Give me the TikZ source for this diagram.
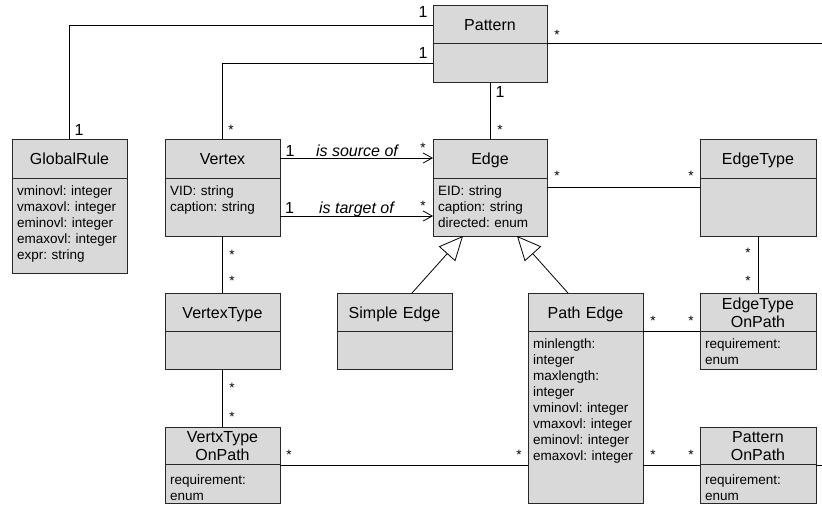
\documentclass[tikz,border=0pt]{standalone}
\usepackage{fontspec}
\setmainfont{Liberation Sans}
\usetikzlibrary{arrows.meta}
\frenchspacing
\definecolor{boxfill}{RGB}{217,217,217}
\definecolor{boxline}{RGB}{40,40,40}
\tikzset{
  cls/.style={draw=boxline, fill=boxfill, line width=0.9pt, inner sep=0pt, outer sep=0pt},
  divline/.style={draw=boxline, line width=0.9pt},
  ttl/.style={font=\fontsize{16}{18}\selectfont, anchor=base, inner sep=0pt, align=center, text width=112pt},
  att/.style={font=\fontsize{13.5}{16}\selectfont\frenchspacing, anchor=base west, inner sep=0pt, align=left, text width=108pt},
  assoc/.style={draw=black, line width=0.8pt},
  nav/.style={assoc, -{Straight Barb[length=9pt,width=10pt,line width=0.8pt]}},
  gen/.style={assoc, -{Triangle[open, length=24pt, width=22pt, line width=0.8pt]}},
  mult/.style={font=\fontsize{16}{18}\selectfont, inner sep=0pt},
  star/.style={font=\fontsize{13.5}{16}\selectfont, inner sep=0pt},
  role/.style={font=\fontsize{16}{18}\selectfont\itshape, anchor=base, inner sep=0pt},
}
% name, x1, y1, x2, y2, ydivider
\newcommand\umlbox[6]{%
  \node[cls, minimum width={#4-#2}, minimum height={#5-#3}] (#1) at ({(#2+#4)/2},{(#3+#5)/2}) {};
  \draw[divline] (#2,#6) -- (#4,#6);
}
\begin{document}
\begin{tikzpicture}[x=1pt,y=-1pt]
\useasboundingbox (0,0) rectangle (822,504);

% classes
\umlbox{cPattern}{433}{5}{547}{82}{43.5}
\node[ttl] (tPattern) at (490,30) {Pattern};

\umlbox{cGlobal}{12}{139}{127}{273}{178}
\node[ttl] (tGlobal) at (69.5,164.5) {GlobalRule};
\node[att] (aGlobal) at (17,195) {vminovl: integer\\vmaxovl: integer\\eminovl: integer\\emaxovl: integer\\expr: string};

\umlbox{cVertex}{165}{139}{280}{236}{178}
\node[ttl] (tVertex) at (222.5,164.5) {Vertex};
\node[att] (aVertex) at (170,195) {VID: string\\caption: string};

\umlbox{cEdge}{433}{139}{547}{236}{178}
\node[ttl] (tEdge) at (490,164.5) {Edge};
\node[att] (aEdge) at (438,195) {EID: string\\caption: string\\directed: enum};

\umlbox{cEdgeType}{700}{139}{816}{236}{178}
\node[ttl] (tEdgeType) at (758,164.5) {EdgeType};

\umlbox{cVType}{165}{293}{280}{369}{331}
\node[ttl] (tVType) at (222.5,318) {VertexType};

\umlbox{cSimple}{337}{293}{452}{369}{331}
\node[ttl] (tSimple) at (394.5,318) {Simple Edge};

\umlbox{cPath}{528}{293}{643}{503}{331}
\node[ttl] (tPath) at (585.5,318) {Path Edge};
\node[att] (aPath) at (533,348) {minlength:\\integer\\maxlength:\\integer\\vminovl: integer\\vmaxovl: integer\\eminovl: integer\\emaxovl: integer};

\umlbox{cETOP}{700}{293}{816}{369}{331}
\node[ttl] (tETOP) at (758,309) {EdgeType\\OnPath};
\node[att] (aETOP) at (705,348) {requirement:\\enum};

\umlbox{cVTOP}{165}{427}{280}{503}{464}
\node[ttl] (tVTOP) at (222.5,442) {VertxType\\OnPath};
\node[att] (aVTOP) at (170,484) {requirement:\\enum};

\umlbox{cPOP}{700}{427}{816}{503}{464}
\node[ttl] (tPOP) at (758,442) {Pattern\\OnPath};
\node[att] (aPOP) at (705,484) {requirement:\\enum};

% free ends
\coordinate (exitA) at (822,43.5);
\coordinate (exitB) at (822,465);

% connectors
\draw[assoc] ([yshift=18.5pt]cPattern.west) -| (cGlobal.north);
\draw[assoc] ([yshift=-19.5pt]cPattern.west) -| (cVertex.north);
\draw[assoc] (cPattern.east) -- (exitA);
\draw[assoc] (cPattern.south) -- (cEdge.north);
\draw[nav] ([yshift=29.5pt]cVertex.east) -- ([yshift=29.5pt]cEdge.west);
\draw[nav] ([yshift=-28.5pt]cVertex.east) -- ([yshift=-28.5pt]cEdge.west);
\draw[assoc] (cEdge.east) -- (cEdgeType.west);
\draw[assoc] (cEdgeType.south) -- (cETOP.north);
\draw[assoc] (cVertex.south) -- (cVType.north);
\draw[assoc] (cVType.south) -- (cVTOP.north);
\draw[gen] ([xshift=17.5pt]cSimple.north) -- ([xshift=-27pt]cEdge.south);
\draw[gen] ([xshift=-17.5pt]cPath.north) -- ([xshift=27pt]cEdge.south);
\draw[assoc] ([yshift=67pt]cPath.east) -- (cETOP.west);
\draw[assoc] (cVTOP.east) -- ([yshift=-67pt]cPath.west);
\draw[assoc] ([yshift=-67pt]cPath.east) -- (cPOP.west);
\draw[assoc] (cPOP.east) -- (exitB);

% multiplicities
\node[mult] (m1) at (423,12) {1};
\node[mult] (m2) at (423,53) {1};
\node[star] (s1) at (557,35) {*};
\node[mult] (m3) at (500,92) {1};
\node[star] (s2) at (500,130) {*};
\node[mult] (m4) at (79,130) {1};
\node[star] (s3) at (231,130) {*};
\node[mult] (m5) at (290,151) {1};
\node[role] (r1) at (357,156.5) {is source of};
\node[star] (s4) at (423,148) {*};
\node[mult] (m6) at (289.5,207.5) {1};
\node[role] (r2) at (356.5,213) {is target of};
\node[star] (s5) at (423,206) {*};
\node[star] (s6) at (557,176) {*};
\node[star] (s7) at (691,176) {*};
\node[star] (s8) at (748,253) {*};
\node[star] (s9) at (748,281) {*};
\node[star] (s10) at (232,255) {*};
\node[star] (s11) at (232,281) {*};
\node[star] (s12) at (232,388) {*};
\node[star] (s13) at (232,417) {*};
\node[star] (s14) at (289,455) {*};
\node[star] (s15) at (519,455) {*};
\node[star] (s16) at (653,321) {*};
\node[star] (s17) at (691,321) {*};
\node[star] (s18) at (653,455) {*};
\node[star] (s19) at (691,455) {*};
\end{tikzpicture}
\end{document}
